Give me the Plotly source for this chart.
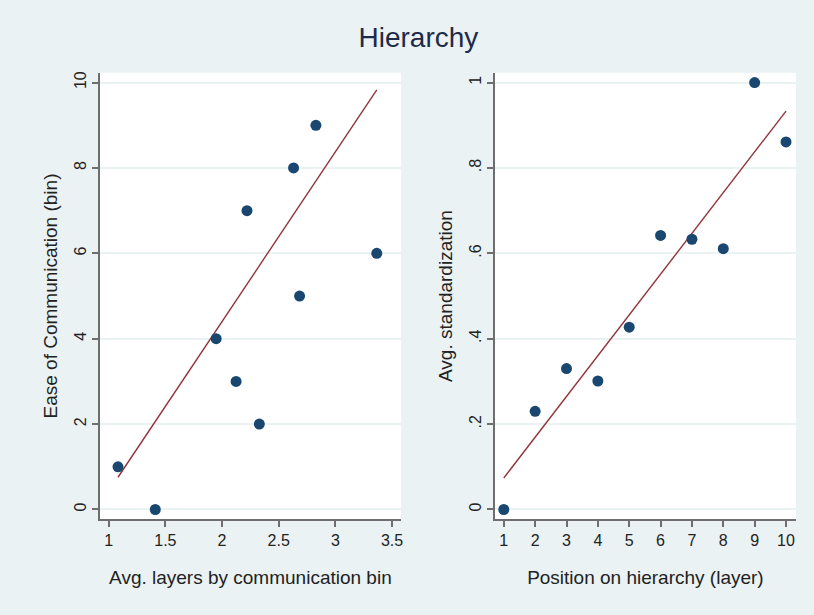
import numpy as np
import plotly.graph_objects as go
from plotly.subplots import make_subplots

# Left panel: ease of communication bins vs. average layers
layers_avg = [1.082, 1.411, 1.948, 2.124, 2.329, 2.220, 2.631, 2.684, 2.828, 3.365]
ease_bin = [1, 0, 4, 3, 2, 7, 8, 5, 9, 6]
# fitted line reported for the left panel (endpoints over the observed x range)
left_fit_x = [1.082, 3.365]
left_fit_y = [0.755, 9.83]

# Right panel: average standardization by hierarchy layer
layer_pos = [1, 2, 3, 4, 5, 6, 7, 8, 9, 10]
std_avg = [0.0, 0.230, 0.330, 0.301, 0.427, 0.642, 0.633, 0.611, 1.0, 0.861]

left_xticks = [1, 1.5, 2, 2.5, 3, 3.5]
left_yticks = [0, 2, 4, 6, 8, 10]
right_xticks = list(range(1, 11))
right_yticks = [0, 0.2, 0.4, 0.6, 0.8, 1.0]
right_ytext = ["0", ".2", ".4", ".6", ".8", "1"]

BG = "#EAF2F3"
NAVY = "#1a476f"
MAROON = "#90353b"
AXIS = "#6e6e6e"
TEXT = "#222222"
FONT = "Liberation Sans, Arial, sans-serif"

# linear fit for the right panel
slope, intercept = np.polyfit(layer_pos, std_avg, 1)
right_fit_x = [min(layer_pos), max(layer_pos)]
right_fit_y = [intercept + slope * v for v in right_fit_x]

fig = make_subplots(rows=1, cols=2)

fig.add_trace(go.Scatter(x=left_fit_x, y=left_fit_y, mode="lines",
                         line=dict(color=MAROON, width=1.4), showlegend=False), 1, 1)
fig.add_trace(go.Scatter(x=layers_avg, y=ease_bin, mode="markers",
                         marker=dict(color=NAVY, size=11), showlegend=False), 1, 1)
fig.add_trace(go.Scatter(x=right_fit_x, y=right_fit_y, mode="lines",
                         line=dict(color=MAROON, width=1.4), showlegend=False), 1, 2)
fig.add_trace(go.Scatter(x=layer_pos, y=std_avg, mode="markers",
                         marker=dict(color=NAVY, size=11), showlegend=False), 1, 2)

ydom = [1 - 519 / 615, 1 - 71 / 615]

common_axis = dict(
    showline=True, linecolor=AXIS, linewidth=1.5,
    ticks="outside", ticklen=6, tickcolor=AXIS, tickwidth=1.5,
    tickfont=dict(family=FONT, size=16, color=TEXT),
    zeroline=False, mirror=False,
)

fig.update_xaxes(common_axis)
fig.update_yaxes(common_axis)

fig.update_xaxes(row=1, col=1, domain=[100 / 814, 402 / 814], range=[0.921, 3.579],
                 tickvals=left_xticks, ticktext=["1", "1.5", "2", "2.5", "3", "3.5"],
                 showgrid=False,
                 title=dict(text="Avg. layers by communication bin", standoff=22,
                            font=dict(family=FONT, size=19, color=TEXT)))
fig.update_yaxes(row=1, col=1, domain=ydom, range=[-0.23, 10.23],
                 tickvals=left_yticks, tickangle=-90,
                 showgrid=True, gridcolor=BG, gridwidth=1.5,
                 title=dict(text="Ease of Communication (bin)", standoff=9,
                            font=dict(family=FONT, size=19, color=TEXT)))
fig.update_xaxes(row=1, col=2, domain=[496 / 814, 798 / 814], range=[0.713, 10.32],
                 tickvals=right_xticks, showgrid=False,
                 title=dict(text="Position on hierarchy (layer)", standoff=22,
                            font=dict(family=FONT, size=19, color=TEXT)))
fig.update_yaxes(row=1, col=2, domain=ydom, range=[-0.023, 1.023],
                 tickvals=right_yticks, ticktext=right_ytext, tickangle=-90,
                 showgrid=True, gridcolor=BG, gridwidth=1.5,
                 title=dict(text="Avg. standardization", standoff=9,
                            font=dict(family=FONT, size=19, color=TEXT)))

fig.update_layout(
    width=814, height=615,
    margin=dict(l=0, r=0, t=0, b=0),
    paper_bgcolor=BG, plot_bgcolor="white",
    title=dict(text="Hierarchy", x=0.514, xanchor="center", y=1 - 37 / 615, yanchor="middle",
               font=dict(family=FONT, size=28, color="#1e2a4a")),
)

fig.write_html("out.html")
